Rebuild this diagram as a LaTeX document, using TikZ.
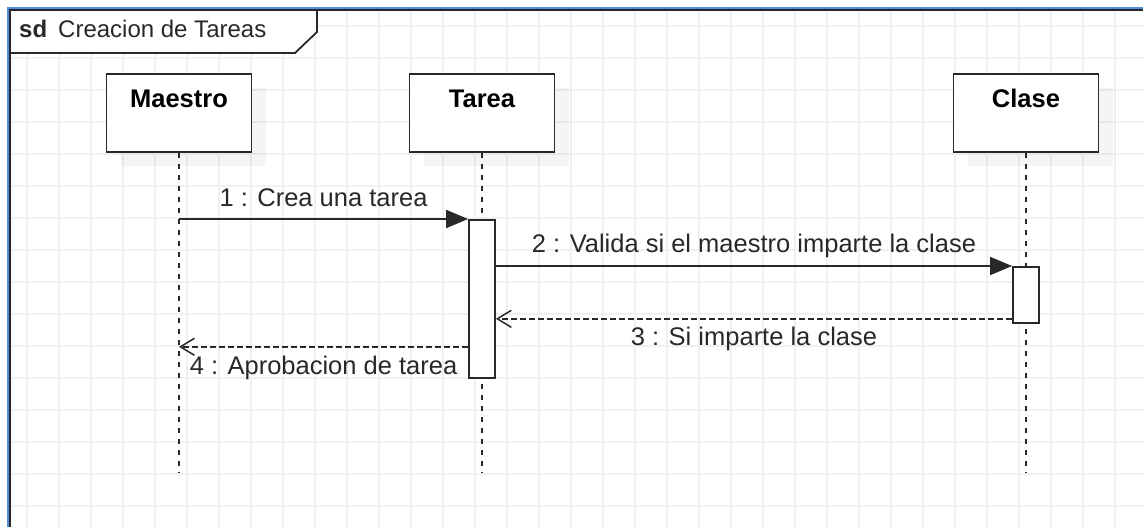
\documentclass[tikz,border=0pt]{standalone}
\usepackage{fontspec}
\setmainfont{Liberation Sans}
\usetikzlibrary{arrows.meta,shadows}
\definecolor{linegray}{RGB}{40,40,40}
\definecolor{gridgray}{RGB}{240,240,240}
\definecolor{selblue}{RGB}{80,140,230}
\tikzset{
    lifebox/.style={draw=linegray, line width=1.8pt, fill=white, anchor=north,
        minimum width=145pt, inner sep=0pt, text height=34pt, text depth=44pt,
        font=\bfseries\fontsize{25.5}{30}\selectfont,
        drop shadow={shadow xshift=14pt, shadow yshift=-14pt, fill=black, opacity=0.04}},
    actbox/.style={draw=linegray, line width=1.8pt, fill=white, anchor=north,
        minimum width=26pt, inner sep=0pt},
    lifeline/.style={linegray, line width=1.8pt, dash pattern=on 5pt off 6pt},
    call/.style={linegray, line width=1.8pt, -{Triangle[length=22pt,width=18pt]}},
    reply/.style={linegray, line width=1.5pt, dash pattern=on 6pt off 3pt,
        -{Straight Barb[length=14pt,width=17pt,line width=1.5pt]}},
    msglabel/.style={text=linegray, anchor=base, inner sep=0pt,
        font=\fontsize{25.5}{30}\selectfont}
}
\begin{document}
\begin{tikzpicture}[x=1pt, y=-1pt]
    \useasboundingbox (0,0) rectangle (1143,527);

    % grid
    \foreach \x in {27,59,...,1143}
        \draw[gridgray, line width=1.5pt] (\x,10) -- (\x,527);
    \foreach \y in {26,58,...,527}
        \draw[gridgray, line width=1.5pt] (10,\y) -- (1143,\y);

    % frame and title tab
    \draw[selblue, line width=2pt] (8,527) -- (8,8) -- (1143,8);
    \draw[linegray, line width=1.8pt] (10,527) -- (10,10) -- (1143,10);
    \draw[linegray, line width=1.8pt, fill=white]
        (10,10) -- (317,10) -- (317,32) -- (295,53) -- (10,53) -- cycle;
    \node[anchor=base west, inner sep=0pt, text=linegray, font=\fontsize{24}{28}\selectfont]
        (title) at (19,38) {\textbf{sd}\hspace{11pt}Creacion de Tareas};

    % lifelines
    \node[lifebox] (maestro) at (179,73) {Maestro};
    \node[lifebox] (tarea) at (482,73) {Tarea};
    \node[lifebox] (clase) at (1026,73) {Clase};
    \coordinate (maestroEnd) at (179,472);
    \coordinate (tareaEnd) at (482,472);
    \coordinate (claseEnd) at (1026,472);
    \draw[lifeline] (maestro.south) -- (maestroEnd);
    \draw[lifeline] (tarea.south) -- (tareaEnd);
    \draw[lifeline] (clase.south) -- (claseEnd);

    % activations
    \node[actbox, minimum height=158pt] (actTarea) at (482,219) {};
    \node[actbox, minimum height=56pt] (actClase) at (1026,266) {};

    % messages
    \draw[call] (maestro.south |- actTarea.north) -- (actTarea.north west)
        node[msglabel, midway, yshift=13pt] {1 : Crea una tarea};
    \draw[call] (actTarea.east |- actClase.north) -- (actClase.north west)
        node[msglabel, midway, yshift=14pt] {2 : Valida si el maestro imparte la clase};
    \coordinate (ret3) at ([yshift=5pt]actClase.south west);
    \draw[reply] (ret3) -- (ret3 -| actTarea.east)
        node[msglabel, midway, yshift=-27pt] {3 : Si imparte la clase};
    \coordinate (ret4) at ([yshift=32pt]actTarea.south west);
    \draw[reply] (ret4) -- (ret4 -| maestro.south)
        node[msglabel, midway, yshift=-28pt] {4 : Aprobacion de tarea};
\end{tikzpicture}
\end{document}
